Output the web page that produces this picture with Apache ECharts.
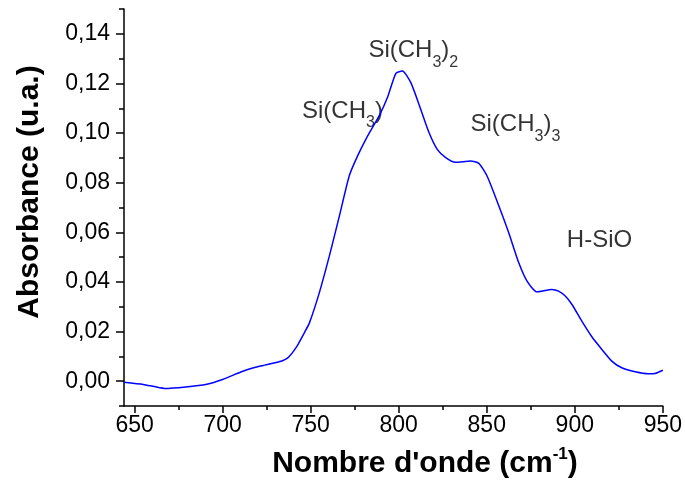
<!DOCTYPE html>
<html>
<head>
<meta charset="utf-8">
<script src="https://cdn.jsdelivr.net/npm/echarts@6/dist/echarts.min.js"></script>
<style>
html,body{margin:0;padding:0;background:#fff;}
#chart{width:685px;height:481px;}
</style>
</head>
<body>
<div id="chart"></div>
<script>
// Spectrum data (wavenumber in cm-1, absorbance in u.a.)
const wavenumber = [644, 655, 667, 679, 691, 700, 711.5, 721, 732, 737, 741.7, 746.4, 749.3, 754.9, 760.6, 766.3, 771.9, 776.6, 782.3, 788.9, 793.6, 798.4, 802.1, 806.9, 812.5, 817.2, 821.9, 826.7, 832.3, 840.8, 845.5, 850.2, 856.9, 862.5, 868.2, 872.9, 878.5, 887, 890.8, 894.6, 898.4, 904, 909.7, 915.4, 921, 926.7, 934.3, 941.8, 945.6, 950];
const absorbance = [-0.0004, -0.0013, -0.0029, -0.0023, -0.0012, 0.0007, 0.0040, 0.0060, 0.0078, 0.0094, 0.0135, 0.0195, 0.0235, 0.0356, 0.0504, 0.0665, 0.0827, 0.0907, 0.0988, 0.1069, 0.1143, 0.1241, 0.1250, 0.1203, 0.1096, 0.1002, 0.0934, 0.0901, 0.0882, 0.0887, 0.0878, 0.0827, 0.0706, 0.0598, 0.0477, 0.0403, 0.0360, 0.0370, 0.0363, 0.0343, 0.0309, 0.0242, 0.0179, 0.0128, 0.0081, 0.0054, 0.0038, 0.0030, 0.0031, 0.0044];

// Tick values
const xMajorTicks = [650, 700, 750, 800, 850, 900, 950];
const xMinorTicks = [675, 725, 775, 825, 875, 925];
const yMajorTicks = [0, 0.02, 0.04, 0.06, 0.08, 0.10, 0.12, 0.14];
const yMinorTicks = [-0.01, 0.01, 0.03, 0.05, 0.07, 0.09, 0.11, 0.13, 0.15];

// Peak annotations: text and anchor (left edge, vertical middle) in data coordinates
const annotationTexts = ['{a|Si(CH}{s|3}{a|)}{s|2}', '{a|Si(CH}{s|3}{a|)}', '{a|Si(CH}{s|3}{a|)}{s|3}', '{a|H-SiO}'];
const annotationX = [782.8, 745.1, 840.8, 895.5];
const annotationY = [0.1334, 0.1089, 0.1035, 0.0566];

const FONT = '"Liberation Sans", Arial, Helvetica, sans-serif';
const chart = echarts.init(document.getElementById('chart'), null, {renderer: 'canvas'});

const fmtY = v => v.toFixed(2).replace('.', ',');
const axisLineStyle = {color: '#000', width: 1.5};

const option = {
  animation: false,
  backgroundColor: '#fff',
  grid: {left: 124, right: 21, top: 9, bottom: 75, containLabel: false},
  xAxis: [
    {
      type: 'value', min: 644, max: 950, position: 'bottom',
      axisLine: {show: true, lineStyle: axisLineStyle, onZero: false},
      axisTick: {show: true, inside: false, length: 7, lineStyle: {color: '#000', width: 1.5}, customValues: xMajorTicks},
      axisLabel: {show: true, margin: 8, color: '#000', fontSize: 23, fontFamily: FONT, customValues: xMajorTicks, formatter: v => String(v)},
      splitLine: {show: false}
    },
    {
      type: 'value', min: 644, max: 950, position: 'bottom',
      axisLine: {show: false, onZero: false},
      axisTick: {show: true, inside: false, length: 4, lineStyle: {color: '#000', width: 1.5}, customValues: xMinorTicks},
      axisLabel: {show: false},
      splitLine: {show: false}
    }
  ],
  yAxis: [
    {
      type: 'value', min: -0.01, max: 0.15, position: 'left',
      axisLine: {show: true, lineStyle: axisLineStyle, onZero: false},
      axisTick: {show: true, inside: false, length: 8, lineStyle: {color: '#000', width: 1.5}, customValues: yMajorTicks},
      axisLabel: {show: true, margin: 14, color: '#000', fontSize: 23, fontFamily: FONT, customValues: yMajorTicks, formatter: fmtY},
      splitLine: {show: false}
    },
    {
      type: 'value', min: -0.01, max: 0.15, position: 'left',
      axisLine: {show: false, onZero: false},
      axisTick: {show: true, inside: false, length: 5, lineStyle: {color: '#000', width: 1.5}, customValues: yMinorTicks},
      axisLabel: {show: false},
      splitLine: {show: false}
    }
  ],
  graphic: [
    {
      type: 'text',
      x: 425, y: 464,
      style: {
        x: 0, y: 0,
        text: '{t|Nombre d\'onde (cm}{u|-1}{t|)}',
        align: 'center', verticalAlign: 'middle',
        rich: {
          t: {fontSize: 30, fontWeight: 'bold', fontFamily: FONT, fill: '#000', lineHeight: 36},
          u: {fontSize: 17, fontWeight: 'bold', fontFamily: FONT, fill: '#000', lineHeight: 17, verticalAlign: 'top'}
        }
      }
    },
    {
      type: 'text',
      x: 30, y: 192, rotation: Math.PI / 2,
      style: {
        x: 0, y: 0,
        text: 'Absorbance (u.a.)',
        align: 'center', verticalAlign: 'middle',
        fontSize: 30, fontWeight: 'bold', fontFamily: FONT, fill: '#000'
      }
    }
  ],
  series: [
    {
      type: 'line',
      xAxisIndex: 0, yAxisIndex: 0,
      data: wavenumber.map((w, i) => [w, absorbance[i]]),
      showSymbol: false, symbol: 'none',
      smooth: 0.2,
      lineStyle: {color: '#0000ff', width: 1.5},
      clip: true
    },
    {
      type: 'scatter',
      xAxisIndex: 0, yAxisIndex: 0,
      symbolSize: 0,
      silent: true,
      data: annotationX.map((x, i) => ({value: [x, annotationY[i]], label: {formatter: annotationTexts[i]}})),
      label: {
        show: true, position: 'inside', align: 'left', verticalAlign: 'middle',
        color: '#000', textBorderWidth: 0,
        rich: {
          a: {fontSize: 24, fontFamily: FONT, color: '#000', lineHeight: 40, textBorderWidth: 0},
          s: {fontSize: 16, fontFamily: FONT, color: '#000', lineHeight: 16, verticalAlign: 'bottom', textBorderWidth: 0}
        }
      }
    }
  ]
};
chart.setOption(option);
</script>
</body>
</html>
